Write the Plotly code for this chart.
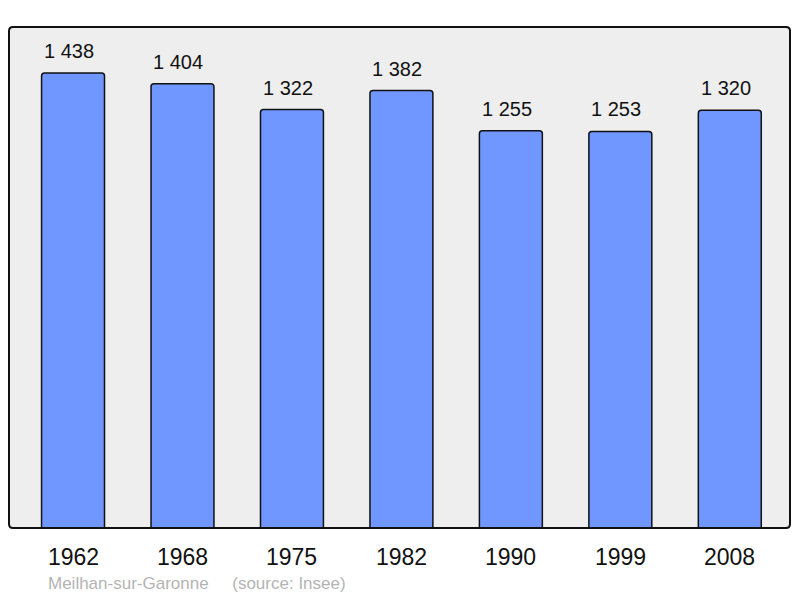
import plotly.graph_objects as go

# population data
years = ["1962", "1968", "1975", "1982", "1990", "1999", "2008"]
population = [1438, 1404, 1322, 1382, 1255, 1253, 1320]
commune = "Meilhan-sur-Garonne"
source = "(source: Insee)"

W, H = 800, 598
L, R, T, B = 9, 10, 27, 70
plot_w = W - L - R
plot_h = H - T - B


def fmt(v):
    return f"{v:,}".replace(",", " ")


fig = go.Figure(
    go.Bar(
        x=list(range(len(years))),
        y=population,
        width=0.575,
        marker=dict(color="#7096ff", line=dict(color="#111111", width=1.5),
                    cornerradius=3),
        hoverinfo="skip",
    )
)

annotations = []
for i, v in enumerate(population):
    annotations.append(dict(
        x=i, y=v, xref="x", yref="y", text=fmt(v), showarrow=False,
        yanchor="bottom", yshift=9, xshift=-4, font=dict(size=20, color="#111111"),
    ))
    annotations.append(dict(
        x=i, y=0, xref="x", yref="paper", text=years[i], showarrow=False,
        yanchor="top", yshift=-14, font=dict(size=23, color="#111111"),
    ))

annotations.append(dict(
    x=(46 - L) / plot_w, y=-(583 - 528) / plot_h, xref="paper", yref="paper",
    xanchor="left", yanchor="middle", showarrow=False,
    text=commune + "&nbsp;&nbsp;&nbsp;&nbsp;&nbsp;" + source,
    font=dict(size=17, color="#b4b4b4"),
))

# frame round the plot area, with slightly rounded corners
rx, ry = 4 / plot_w, 4 / plot_h
frame = (f"M {rx},0 L {1 - rx},0 Q 1,0 1,{ry} L 1,{1 - ry} Q 1,1 {1 - rx},1 "
         f"L {rx},1 Q 0,1 0,{1 - ry} L 0,{ry} Q 0,0 {rx},0 Z")

fig.update_layout(
    width=W, height=H,
    margin=dict(l=L, r=R, t=T, b=B),
    paper_bgcolor="white",
    plot_bgcolor="#eeeeee",
    font=dict(family="Liberation Sans, Arial, sans-serif"),
    showlegend=False,
    xaxis=dict(range=[-0.585, 6.55], showticklabels=False, showgrid=False,
               zeroline=False, fixedrange=True),
    yaxis=dict(range=[0, 1583], showticklabels=False, showgrid=False,
               zeroline=False, fixedrange=True),
    annotations=annotations,
    shapes=[dict(type="path", path=frame, xref="paper", yref="paper",
                 line=dict(color="#111111", width=2), layer="above")],
)

# the page has a default 8px body margin, drop it so the figure fills the window
fig.write_html("out.html", config={"displayModeBar": False},
               post_script="document.body.style.margin='0';"
                           "document.body.style.overflow='hidden';")
